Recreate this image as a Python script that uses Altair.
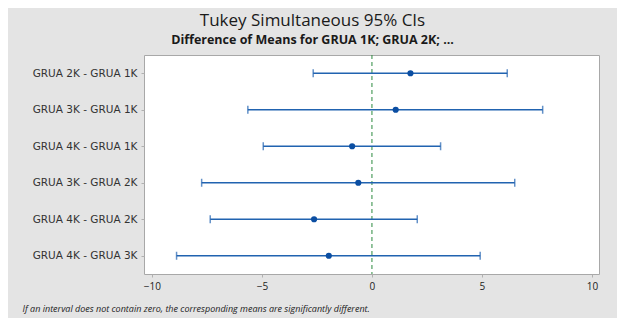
import altair as alt
import pandas as pd

comparisons = ["GRUA 2K - GRUA 1K", "GRUA 3K - GRUA 1K", "GRUA 4K - GRUA 1K",
               "GRUA 3K - GRUA 2K", "GRUA 4K - GRUA 2K", "GRUA 4K - GRUA 3K"]
means = [1.75, 1.08, -0.90, -0.62, -2.63, -1.96]
lowers = [-2.67, -5.64, -4.94, -7.74, -7.35, -8.88]
uppers = [6.15, 7.76, 3.12, 6.49, 2.06, 4.92]
x_ticks = [-10, -5, 0, 5, 10]
zero_line = [0]

df = pd.DataFrame({"comp": comparisons, "mean": means, "lower": lowers, "upper": uppers})
zdf = pd.DataFrame({"z": zero_line})

LINE = "#2163b0"
DOT = "#0b4ea2"

xscale = alt.Scale(domain=[-10.36, 10.32], nice=False, zero=False)
yscale = alt.Scale(type="point", padding=0.5, domain=comparisons)

xaxis = alt.Axis(values=x_ticks, grid=False, domain=False, tickColor="#b0b0b0", tickSize=3,
                 labelFont="Open Sans", labelFontSize=10, labelColor="#222222", labelPadding=4,
                 title="If an interval does not contain zero, the corresponding means are significantly different.",
                 titleFont="Open Sans", titleFontStyle="italic", titleFontWeight="normal",
                 titleFontSize=9, titleColor="#222222", titleAlign="left", titleAnchor="start",
                 titleX=-122, titleY=37, titleBaseline="alphabetic")
yaxis = alt.Axis(grid=False, domain=False, tickColor="#b0b0b0", tickSize=3, labelPadding=4,
                 labelFont="DejaVu Sans", labelFontSize=10.5, labelColor="#333333", title=None)

base = alt.Chart(df)

zero = alt.Chart(zdf).mark_rule(color="#2b8a3e", strokeDash=[4, 3], strokeWidth=1).encode(
    x=alt.X("z:Q", scale=xscale, axis=xaxis)
)
rules = base.mark_rule(color=LINE, strokeWidth=1.5).encode(
    x=alt.X("lower:Q", scale=xscale, axis=xaxis),
    x2="upper:Q",
    y=alt.Y("comp:N", scale=yscale, axis=yaxis, sort=comparisons),
)
tick_lo = base.mark_tick(color=LINE, orient="vertical", size=8, thickness=1.5).encode(
    x=alt.X("lower:Q", scale=xscale),
    y=alt.Y("comp:N", scale=yscale, sort=comparisons),
)
tick_hi = base.mark_tick(color=LINE, orient="vertical", size=8, thickness=1.5).encode(
    x=alt.X("upper:Q", scale=xscale),
    y=alt.Y("comp:N", scale=yscale, sort=comparisons),
)
dots = base.mark_point(filled=True, shape="circle", size=38, color=DOT, opacity=1).encode(
    x=alt.X("mean:Q", scale=xscale),
    y=alt.Y("comp:N", scale=yscale, sort=comparisons),
)

chart = alt.layer(zero, rules, tick_lo, tick_hi, dots).properties(
    width=455,
    height=219,
    background="#e4e4e4",
    padding={"left": 136, "top": 47, "right": 18, "bottom": 44},
    autosize=alt.AutoSizeParams(type="none"),
    title=alt.TitleParams(
        text="Tukey Simultaneous 95% CIs",
        subtitle="Difference of Means for GRUA 1K; GRUA 2K; ...",
        anchor="middle", frame="group", dx=-59, offset=7,
        font="Open Sans", fontSize=17, fontWeight="normal", color="#1a1a1a",
        subtitleFont="Open Sans", subtitleFontSize=12.5, subtitleFontWeight="bold",
        subtitleColor="#1a1a1a", subtitlePadding=4,
    ),
).configure_view(stroke="#a8a8a8", strokeWidth=1, fill="white")

chart.save("out.html", embed_options={"renderer": "svg", "actions": False})
